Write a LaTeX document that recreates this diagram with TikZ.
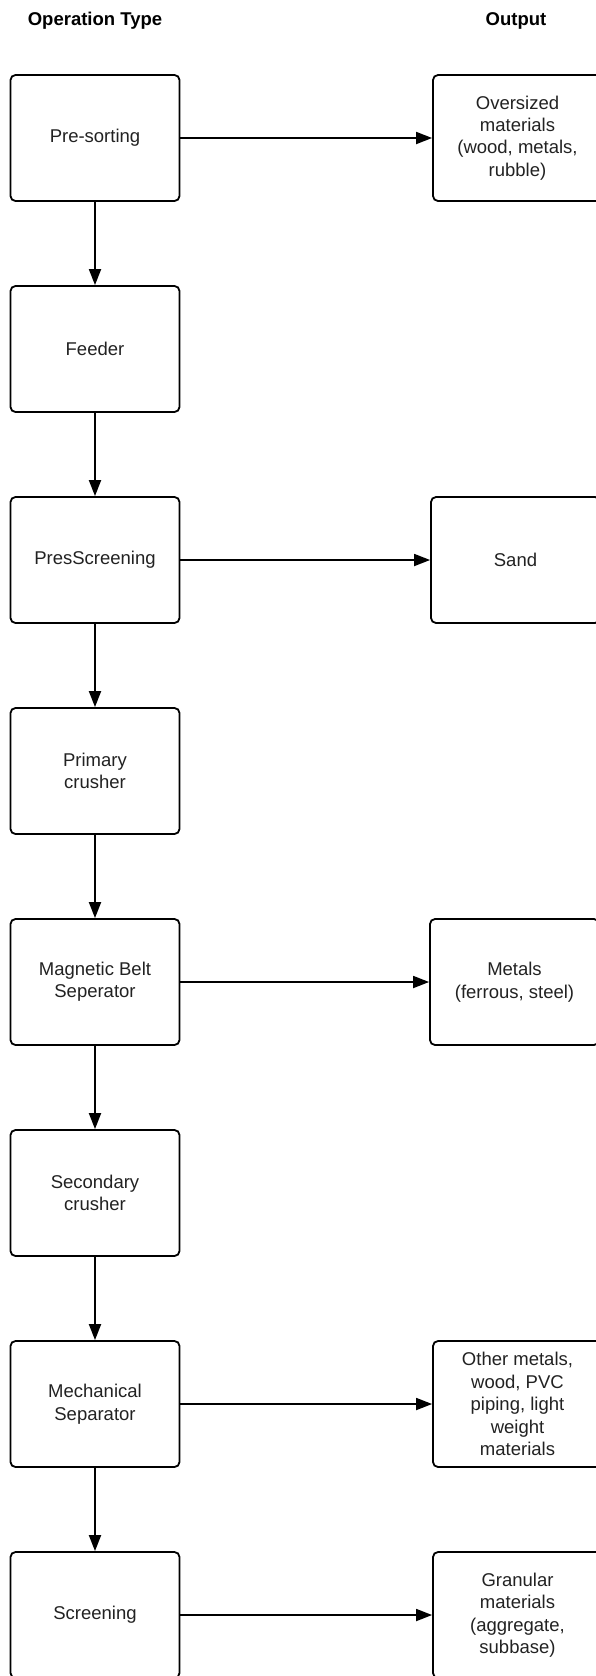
\documentclass[tikz,border=0pt]{standalone}
\usepackage{fontspec}
\setmainfont{Liberation Sans}
\usetikzlibrary{arrows.meta}
\definecolor{txt}{RGB}{34,34,34}
\begin{document}
\begin{tikzpicture}[x=1pt,y=-1pt,
  box/.style={draw=black, line width=1.8pt, rounded corners=5pt, minimum width=169pt, minimum height=126pt, align=center, font=\fontsize{18.5}{22.4}\selectfont, text=txt, inner sep=0pt},
  arr/.style={line width=1.8pt, -{Triangle[length=16pt,width=12pt]}},
  hdr/.style={font=\bfseries\fontsize{18.5}{22}\selectfont, text=black}]
\useasboundingbox (0,0) rectangle (596,1676);
\clip (0,0) rectangle (596,1676);
\fill[white] (0,0) rectangle (596,1676);

\node[hdr] (h1) at (95,21) {Operation Type};
\node[hdr] (h2) at (516,21) {Output};

\node[box] (l1) at (95,138) {Pre-sorting};
\node[box] (l2) at (95,349) {Feeder};
\node[box] (l3) at (95,560) {PresScreening};
\node[box] (l4) at (95,771) {Primary\\crusher};
\node[box] (l5) at (95,982) {Magnetic Belt\\Seperator};
\node[box] (l6) at (95,1193) {Secondary\\crusher};
\node[box] (l7) at (95,1404) {Mechanical\\Separator};
\node[box] (l8) at (95,1615) {Screening};

\node[box] (r1) at (517.5,138) {Oversized\\materials\\(wood, metals,\\rubble)};
\node[box] (r3) at (515.5,560) {Sand};
\node[box] (r5) at (514.5,982) {Metals\\(ferrous, steel)};
\node[box] (r7) at (517.5,1404) {Other metals,\\wood, PVC\\piping, light\\weight\\materials};
\node[box] (r8) at (517.5,1615) {Granular\\materials\\(aggregate,\\subbase)};

\draw[arr] (l1) -- (l2);
\draw[arr] (l2) -- (l3);
\draw[arr] (l3) -- (l4);
\draw[arr] (l4) -- (l5);
\draw[arr] (l5) -- (l6);
\draw[arr] (l6) -- (l7);
\draw[arr] (l7) -- (l8);

\draw[arr] (l1) -- (r1);
\draw[arr] (l3) -- (r3);
\draw[arr] (l5) -- (r5);
\draw[arr] (l7) -- (r7);
\draw[arr] (l8) -- (r8);
\end{tikzpicture}
\end{document}
